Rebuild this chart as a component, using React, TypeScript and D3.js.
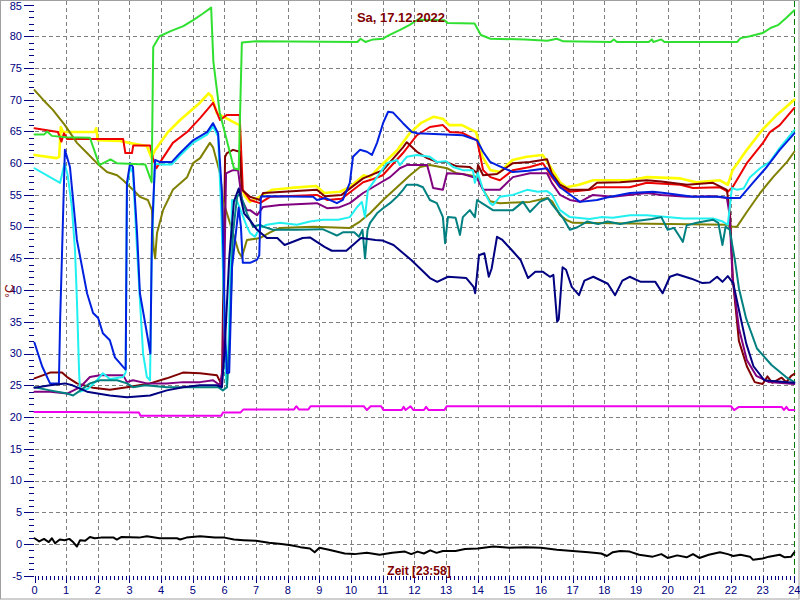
import React from "react";
import * as d3 from "d3";

type Pt = [number, number];

const W = 800;
const H = 600;

const title = "Sa, 17.12.2022";
const xTitle = "Zeit [23:58]";
const yTitle = "°C";

const hourLabels = [0, 1, 2, 3, 4, 5, 6, 7, 8, 9, 10, 11, 12, 13, 14, 15, 16, 17, 18, 19, 20, 21, 22, 23, 24];
const degreeLabels = [-5, 0, 5, 10, 15, 20, 25, 30, 35, 40, 45, 50, 55, 60, 65, 70, 75, 80, 85];
const gridDegrees = [0, 5, 10, 15, 20, 25, 30, 35, 40, 45, 50, 55, 60, 65, 70, 75, 80];

// [Stunde, °C]
const gruen: Pt[] = [
  [0, 64.5], [0.3, 64.5], [0.4, 65], [0.55, 64.3], [1.0, 64.1], [1.75, 64], [2.05, 59.7], [2.4, 60.6], [2.6, 60],
  [3.5, 59.8], [3.7, 57], [3.75, 78.3], [3.95, 80], [4.3, 80.8], [4.7, 81.6], [5.0, 82.5], [5.3, 83.5], [5.58, 84.5],
  [5.65, 76], [5.85, 68], [6.3, 59.2], [6.45, 59], [6.55, 79], [7.0, 79.2], [10.2, 79.1], [10.3, 79.6], [10.45, 79.1],
  [10.7, 79.5], [11.0, 79.6], [11.1, 79.9], [11.25, 80.3], [11.55, 81], [11.85, 81.8], [12.1, 82.6], [12.95, 82.5],
  [13.05, 82.1], [13.9, 82], [14.1, 80.2], [14.4, 79.6], [15.5, 79.5], [16.2, 79.3], [16.5, 79.6], [16.7, 79.2],
  [18.2, 79.1], [18.3, 79.5], [18.4, 79.1], [19.4, 79.1], [19.5, 79.5], [19.55, 79.1], [19.8, 79.5], [19.9, 79.1],
  [22.2, 79.1], [22.3, 79.7], [22.6, 80], [23.0, 80.5], [23.25, 81.3], [23.5, 81.8], [23.75, 82.9], [24, 84.1],
];

const gelb: Pt[] = [
  [0, 61.3], [0.7, 60.8], [0.78, 61], [0.83, 65.7], [0.9, 64.9], [1.9, 64.9], [1.95, 65.5], [2.0, 63.6], [2.7, 63.5],
  [3.2, 63], [3.55, 62.7], [3.7, 60.8], [3.8, 62], [4.2, 64.8], [4.6, 66.8], [5.2, 69.4], [5.5, 71], [5.6, 70.5],
  [5.76, 67.9], [6.27, 66.5], [6.48, 66], [6.55, 56], [6.65, 54.8], [6.8, 53.9], [7.1, 54.7], [7.5, 55.8], [8.1, 56.1],
  [8.9, 56.4], [9.15, 55.3], [9.65, 55.5], [9.95, 56.2], [10.4, 58.1], [10.6, 57.8], [10.9, 59.4], [11.45, 62],
  [11.85, 64.7], [12.2, 66.3], [12.6, 67.3], [12.9, 67], [13.1, 66], [13.5, 66], [13.95, 64.9], [14.15, 61],
  [14.4, 58.9], [14.7, 58.6], [15.1, 60.5], [15.55, 61], [16.05, 61.3], [16.3, 59.4], [16.6, 57], [16.8, 56.2],
  [17.2, 56.6], [17.65, 57.3], [18.8, 57.3], [19.35, 57.8], [20.4, 57.6], [20.9, 57], [21.65, 57.3], [21.9, 56.6],
  [22.05, 58.9], [22.5, 62.1], [23.0, 65.3], [23.45, 67.6], [24, 70],
];

const rot: Pt[] = [
  [0, 65.5], [0.74, 64.9], [0.85, 63.4], [0.93, 64.7], [1.03, 63.8], [2.8, 63.8], [2.87, 61.6], [3.08, 61.6],
  [3.12, 62.8], [3.65, 62.8], [3.74, 60.8], [3.85, 59.2], [3.95, 60], [4.37, 63.2], [4.82, 64.9], [5.23, 67.1],
  [5.64, 69.5], [5.86, 66.8], [6.08, 67.6], [6.48, 67.6], [6.58, 55.8], [6.81, 54.2], [7.12, 53.7], [7.44, 54.7],
  [8.92, 55], [9.24, 54.2], [9.7, 54.4], [10.38, 57], [10.7, 57.5], [11.0, 58.1], [11.64, 61.6], [12.08, 64.4],
  [12.49, 65.7], [12.9, 66], [13.12, 64.9], [13.5, 64.8], [13.98, 63.6], [14.17, 58.9], [14.4, 57.8], [14.7, 57.3],
  [15.11, 58.9], [15.65, 59.4], [16.06, 60], [16.34, 57.8], [16.6, 56.2], [16.91, 55.5], [17.54, 55.8], [17.77, 56.2],
  [18.8, 56.2], [19.34, 56.9], [20.4, 56.6], [20.8, 56.1], [21.65, 56.2], [21.9, 55.5], [22.05, 56.2], [22.5, 60],
  [23.01, 63.2], [23.23, 64.9], [23.54, 66], [24, 68.7],
];

const dunkelrot: Pt[] = [
  [0, 26.1], [0.49, 27], [0.87, 27], [1.03, 26.3], [1.34, 25.3], [1.85, 24.6], [2.38, 24.3], [2.92, 24.7], [3.65, 25.3],
  [4.18, 26.1], [4.69, 27], [5.23, 26.9], [5.76, 26.6], [5.92, 25], [6.02, 61], [6.08, 61.6], [6.27, 62.1],
  [6.48, 61.8], [6.55, 55.8], [6.81, 54.7], [7.12, 54.2], [7.22, 55.3], [8.92, 55.8], [9.17, 54.8], [9.7, 55],
  [10.38, 57.6], [11.01, 58.9], [11.64, 62.5], [11.76, 63.3], [12.08, 61.8], [12.4, 60.8], [12.71, 60.2], [13.0, 60.2],
  [13.34, 59.5], [13.75, 59.4], [13.98, 58.4], [14.01, 59.7], [14.17, 58.1], [14.61, 58.3], [15.11, 60], [15.65, 60.2],
  [16.19, 60.6], [16.34, 58.4], [16.6, 56.6], [16.91, 55.8], [17.5, 55.8], [17.77, 56.9], [18.5, 57], [19.34, 57.3],
  [19.8, 57.1], [20.61, 56.6], [21.43, 56.9], [21.87, 55.8], [21.97, 52.1], [22.06, 41.6], [22.25, 32], [22.5, 28],
  [22.75, 25.5], [23.0, 25.2], [23.15, 26.4], [23.3, 25.4], [23.6, 26.2], [23.75, 25.5], [23.9, 26.5], [24, 26.8],
];

const blau: Pt[] = [
  [0, 31.7], [0.24, 28], [0.49, 25.3], [0.77, 25.3], [0.81, 35.3], [0.87, 45.9], [0.96, 62.1], [1.12, 59.4],
  [1.34, 47.9], [1.66, 39.5], [1.85, 36.4], [2.01, 35.6], [2.16, 33.2], [2.38, 32.1], [2.54, 29.4], [2.8, 27.9],
  [2.88, 27.5], [2.92, 56.9], [3.02, 60], [3.11, 59.4], [3.24, 49], [3.33, 39.5], [3.55, 33.2], [3.66, 30], [3.71, 49],
  [3.81, 60.5], [3.96, 60.2], [4.34, 60.2], [4.6, 61.6], [5.01, 63.6], [5.45, 64.9], [5.64, 66.3], [5.8, 64.7],
  [5.92, 55.3], [6.02, 33.2], [6.08, 26.9], [6.15, 27], [6.24, 43.6], [6.45, 53], [6.52, 50], [6.58, 44.3],
  [6.81, 44.3], [7.03, 44.8], [7.1, 45.5], [7.15, 54.7], [7.22, 54.8], [8.8, 54.7], [8.92, 54.2], [9.2, 54.5],
  [9.55, 53.7], [9.74, 54.2], [9.96, 56.9], [10.06, 61], [10.28, 62.1], [10.5, 61.8], [10.66, 61.3], [10.82, 63.2],
  [11.01, 66.3], [11.17, 68.1], [11.32, 68], [11.64, 66.3], [11.92, 64.9], [12.08, 64.7], [13.53, 64.4],
  [13.98, 63.6], [14.17, 61.8], [14.39, 60.2], [14.61, 59.7], [15.11, 58.6], [15.6, 58.8], [16.19, 59.2],
  [16.34, 58.1], [16.6, 56.2], [17.01, 54.7], [17.23, 53.9], [17.77, 54.2], [18.08, 54.6], [18.81, 55.3],
  [19.53, 55.5], [19.9, 55.3], [20.8, 54.7], [21.65, 54.7], [21.9, 54.5], [22.28, 54.5], [22.69, 56.9],
  [23.13, 59.4], [23.54, 62.1], [24, 64.7],
];

const dunkelblau: Pt[] = [
  [0, 24.6], [0.49, 25], [0.96, 25.3], [1.2, 25], [1.66, 24], [2.38, 23.4], [2.92, 23.1], [3.65, 23.4], [4.18, 24.2],
  [4.69, 24.7], [5.23, 25], [5.76, 25], [5.92, 24.7], [6.0, 30], [6.15, 45], [6.3, 54], [6.45, 56], [6.62, 52.1],
  [6.81, 51], [7.03, 49.5], [7.34, 48.2], [7.67, 48.2], [7.9, 47.1], [8.47, 48.2], [8.7, 48.3], [9.16, 46.8],
  [9.39, 46.2], [9.85, 46.2], [10.31, 48.2], [10.77, 47.9], [11.0, 47.8], [11.34, 47.1], [11.91, 44.7], [12.49, 41.9],
  [12.72, 41.3], [13.06, 42.1], [13.64, 41.9], [13.87, 40.5], [13.92, 39.5], [14.04, 45.5], [14.21, 45.8],
  [14.35, 42.1], [14.44, 43.4], [14.61, 48.4], [14.78, 47.9], [15.13, 46], [15.36, 44.7], [15.59, 41.9],
  [15.82, 42.9], [16.05, 42.9], [16.28, 42.1], [16.39, 42.4], [16.51, 35], [16.56, 35.4], [16.68, 43.6],
  [16.79, 43.2], [16.97, 40.5], [17.2, 39.2], [17.37, 41.5], [17.65, 42.1], [18.11, 41], [18.34, 39.2],
  [18.57, 41.5], [18.8, 42.1], [19.15, 41.3], [19.61, 41.3], [19.84, 39.5], [20.07, 42.1], [20.3, 42.5],
  [20.75, 41.8], [21.1, 41.1], [21.33, 41.2], [21.56, 42.1], [21.73, 41.3], [21.9, 42.2], [22.07, 41.1],
  [22.25, 36.9], [22.48, 31.6], [22.71, 28], [23.05, 25.8], [23.5, 25.6], [24, 25.4],
];

const tuerkis: Pt[] = [
  [0, 59.2], [0.49, 57.8], [0.81, 56.9], [0.95, 60], [1.05, 58], [1.18, 53.1], [1.28, 46.3], [1.34, 38.4],
  [1.41, 26.9], [1.44, 24], [1.7, 24.5], [1.97, 25.8], [2.16, 26.9], [2.38, 26], [2.8, 26.3], [2.88, 27], [2.92, 56.2],
  [3.02, 59.4], [3.11, 58.5], [3.24, 46.3], [3.33, 38.4], [3.43, 30], [3.55, 26.3], [3.65, 25.8], [3.7, 45], [3.8, 60],
  [3.96, 59.8], [4.34, 59.8], [4.6, 61.2], [5.01, 63.2], [5.45, 64.5], [5.64, 65.8], [5.8, 64.2], [5.9, 52],
  [5.95, 43.6], [6.05, 26], [6.08, 24.7], [6.15, 35], [6.24, 54.2], [6.4, 54], [6.71, 50], [6.81, 49], [6.96, 48.4],
  [7.12, 49.8], [7.34, 50.3], [7.75, 50.6], [8.29, 50.3], [8.7, 50.8], [9.11, 51.1], [9.6, 51.1], [9.96, 51.5],
  [10.19, 53.1], [10.34, 53.9], [10.44, 51.5], [10.53, 55.8], [10.82, 57.8], [11.13, 60], [11.45, 60.5],
  [11.54, 59.7], [11.76, 61], [12.08, 61.3], [12.49, 61], [12.71, 60.2], [13.0, 60.3], [13.22, 59.4], [13.53, 58.9],
  [13.85, 58.9], [13.91, 56.9], [14.0, 58.5], [14.17, 55.8], [14.39, 53.7], [14.48, 53.4], [14.7, 54.7], [15.11, 55],
  [15.56, 55.8], [15.9, 55.5], [16.19, 55.6], [16.35, 55], [16.6, 52.6], [16.91, 51.5], [17.54, 51.2], [17.9, 51.5],
  [18.27, 51.4], [18.81, 51.8], [19.34, 51.8], [19.97, 51.5], [20.5, 51.3], [21.02, 51.3], [21.43, 51.3],
  [21.74, 50.8], [21.9, 50.3], [22.03, 56.1], [22.19, 55.8], [22.4, 56], [22.6, 57.8], [22.92, 59.2], [23.23, 60.2],
  [23.54, 62.4], [24, 65.2],
];

const petrol: Pt[] = [
  [0, 24.7], [0.49, 24.2], [1.03, 23.7], [1.22, 23.4], [1.45, 24.2], [1.75, 25.3], [2.07, 25.8], [2.61, 25.8],
  [2.92, 25.3], [3.11, 24.7], [3.5, 25], [4.18, 24.7], [5.23, 24.7], [5.8, 24.7], [5.95, 24.2], [6.08, 24.7],
  [6.17, 33.2], [6.27, 49], [6.4, 54.7], [6.49, 55.3], [6.71, 52.1], [6.9, 50], [7.12, 50.3], [7.22, 50], [7.53, 49.5],
  [8.29, 49.5], [9.1, 49.6], [9.33, 49.1], [9.55, 48.6], [9.74, 49.1], [10.1, 49.1], [10.25, 48.4], [10.36, 49.5],
  [10.44, 45], [10.52, 49.5], [10.6, 50.6], [10.82, 52.1], [11.01, 52.9], [11.23, 53.7], [11.45, 54.7], [11.64, 55.8],
  [11.76, 56.6], [12.08, 56.6], [12.27, 56.2], [12.49, 54.2], [12.71, 53.7], [12.9, 51.5], [12.97, 47.4],
  [13.06, 51.5], [13.3, 51.4], [13.44, 48.7], [13.53, 51.5], [13.75, 52.6], [13.91, 51.5], [13.98, 54.2],
  [14.17, 53.6], [14.48, 52.6], [15.11, 52.6], [15.43, 53.9], [15.65, 52.3], [15.96, 53.9], [16.22, 54.5],
  [16.35, 53.5], [16.69, 51.4], [16.91, 49.5], [17.15, 49.9], [17.45, 50.8], [17.8, 50.4], [18.1, 50.8], [18.5, 50.4],
  [19.0, 50.9], [19.5, 51.2], [19.8, 51.5], [20.0, 49.5], [20.2, 49.8], [20.38, 48.4], [20.48, 47.6], [20.6, 50.2],
  [20.92, 50.6], [21.43, 51.1], [21.6, 50.6], [21.73, 47.1], [21.83, 50], [21.96, 49.5], [22.13, 44.5],
  [22.25, 40.3], [22.48, 35.5], [22.82, 30.8], [23.28, 28.2], [23.74, 26.3], [24, 25.5],
];

const oliv: Pt[] = [
  [0, 71.5], [0.27, 70], [0.58, 68.4], [0.96, 66], [1.34, 63.2], [1.66, 61.6], [1.97, 60], [2.29, 58.6], [2.61, 58.1],
  [2.8, 57.3], [3.11, 55.8], [3.33, 54.7], [3.58, 54.2], [3.71, 52.6], [3.76, 46.8], [3.81, 45], [3.87, 49],
  [4.06, 52.6], [4.37, 55.8], [4.82, 57.8], [5.01, 60], [5.23, 60.8], [5.54, 63.2], [5.64, 62.5], [5.86, 58.4],
  [5.95, 54.2], [6.27, 49], [6.45, 46], [6.55, 45.2], [6.71, 47.9], [7.12, 48.2], [7.44, 49.1], [7.75, 49.8],
  [8.8, 50], [9.96, 49.8], [10.28, 50.8], [10.6, 52.1], [11.01, 54.2], [11.45, 56.2], [11.86, 58.1], [12.18, 59.4],
  [12.49, 59.7], [13.03, 59.2], [13.34, 58.4], [13.75, 58.1], [14.0, 57.8], [14.17, 55.8], [14.39, 54], [14.7, 53.7],
  [15.65, 53.9], [16.19, 54.5], [16.35, 54], [16.6, 51.8], [16.82, 51], [17.01, 50.6], [21.87, 50.3], [21.97, 50],
  [22.19, 50], [22.5, 52.3], [22.92, 55.3], [23.33, 57.8], [23.77, 60.2], [24, 61.8],
];

const lila: Pt[] = [
  [0, 24], [0.5, 24], [1.03, 23.7], [1.44, 24.7], [1.75, 26.3], [2.07, 26.6], [2.8, 26.6], [2.92, 25.5], [3.11, 25.8],
  [3.55, 25.3], [4.18, 25.3], [4.69, 25.5], [5.23, 25.5], [5.64, 25.8], [5.86, 25], [5.95, 27.9], [6.05, 58.4],
  [6.27, 58.9], [6.43, 58.9], [6.55, 54.2], [6.71, 52.6], [6.81, 52.6], [7.03, 51.8], [7.22, 53.1], [7.75, 53.4],
  [8.92, 53.7], [9.24, 52.9], [9.6, 53], [9.96, 53.7], [10.38, 55.3], [10.82, 56.6], [11.23, 57.8], [11.54, 59.2],
  [11.76, 59.7], [12.4, 59.7], [12.49, 58.1], [12.59, 56.1], [12.9, 55.8], [13.03, 58.4], [13.53, 58.3], [13.98, 57.6],
  [14.17, 55.8], [14.7, 55.8], [15.11, 57.8], [15.65, 58.4], [16.19, 58.4], [16.34, 56.9], [16.6, 55], [16.91, 54.2],
  [17.23, 53.9], [17.64, 55], [18.27, 54.7], [19.34, 55.3], [19.8, 55], [20.61, 54.7], [21.43, 54.8], [21.87, 54.5],
  [21.95, 52.1], [22.05, 42], [22.25, 34], [22.5, 29], [22.8, 26.5], [23.2, 25.5], [24, 25.2],
];

const magenta: Pt[] = [
  [0, 20.8], [1.2, 20.8], [3.3, 20.7], [3.35, 20.2], [5.9, 20.2], [5.95, 20.7], [6.5, 20.7], [6.6, 21.2], [8.2, 21.2],
  [8.27, 21.7], [8.35, 21.2], [8.65, 21.2], [8.72, 21.7], [10.4, 21.7], [10.5, 21.1], [10.62, 21.7], [10.95, 21.7],
  [11.02, 21.1], [11.6, 21.1], [11.66, 21.6], [11.72, 21.1], [11.88, 21.7], [11.97, 21.1], [12.3, 21.1],
  [12.37, 21.6], [12.45, 21.1], [12.95, 21.1], [13.02, 21.7], [22.0, 21.7], [22.1, 21.1], [22.25, 21.6],
  [23.6, 21.6], [23.67, 21.1], [23.75, 21.6], [23.82, 21.1], [24, 21.1],
];

const schwarz: Pt[] = [
  [0, 0.9], [0.15, 0.4], [0.3, 0.8], [0.45, 0.3], [0.55, 0.9], [0.65, 0.1], [0.8, 0.7], [0.95, 0.6], [1.1, 0.8],
  [1.22, 0.3], [1.34, -0.4], [1.44, 0.6], [1.6, 0.5], [1.75, 1.1], [1.9, 0.9], [2.1, 1.0], [2.5, 1.0], [2.6, 0.7],
  [2.75, 1.1], [3.3, 1.0], [3.55, 1.2], [3.95, 0.9], [4.5, 0.9], [4.6, 0.7], [4.8, 1.0], [5.23, 1.2], [5.7, 1.0],
  [6.0, 1.0], [6.3, 0.7], [6.6, 0.6], [7.0, 0.5], [7.4, 0.2], [7.8, 0.0], [8.1, -0.2], [8.4, -0.5], [8.7, -0.7],
  [8.85, -1.3], [9.0, -0.6], [9.3, -0.9], [9.8, -1.5], [10.1, -1.6], [10.5, -1.4], [10.9, -1.7], [11.3, -1.4],
  [11.7, -1.2], [11.9, -1.6], [12.1, -1.2], [12.3, -1.5], [12.5, -1.0], [12.7, -1.4], [12.9, -1.1], [13.3, -1.1],
  [13.6, -0.8], [14.0, -0.7], [14.5, -0.4], [15.0, -0.6], [15.5, -0.5], [16.0, -0.6], [16.5, -0.9], [17.0, -1.1],
  [17.5, -1.3], [17.9, -1.5], [18.08, -1.9], [18.27, -1.3], [18.5, -1.1], [18.8, -1.2], [19.1, -1.7], [19.53, -2.0],
  [19.8, -1.6], [20.0, -2.2], [20.3, -1.8], [20.6, -2.1], [20.8, -1.6], [21.0, -2.2], [21.3, -1.7], [21.65, -1.3],
  [21.9, -1.6], [22.07, -1.9], [22.3, -1.7], [22.6, -2.0], [22.7, -2.5], [23.0, -2.3], [23.2, -2.0], [23.54, -1.7],
  [23.7, -2.1], [23.9, -2.0], [24, -1.3],
];

const series = [
  { name: "gelb", color: "#ffff00", width: 2.6, data: gelb },
  { name: "rot", color: "#ee0000", width: 2, data: rot },
  { name: "dunkelrot", color: "#800000", width: 2, data: dunkelrot },
  { name: "oliv", color: "#808000", width: 2, data: oliv },
  { name: "lila", color: "#800080", width: 2, data: lila },
  { name: "tuerkis", color: "#20f0f0", width: 2, data: tuerkis },
  { name: "petrol", color: "#008080", width: 2, data: petrol },
  { name: "blau", color: "#0020e0", width: 2, data: blau },
  { name: "dunkelblau", color: "#000080", width: 2, data: dunkelblau },
  { name: "gruen", color: "#30e030", width: 2, data: gruen },
  { name: "magenta", color: "#ee00ee", width: 2, data: magenta },
  { name: "schwarz", color: "#000000", width: 2, data: schwarz },
];

export default function App() {
  const x = d3.scaleLinear().domain([0, 24]).range([34.5, 794.3]);
  const y = d3.scaleLinear().domain([-5, 85]).range([575.7, 4.5]);
  const line = d3.line<Pt>().x((d) => x(d[0])).y((d) => y(d[1]));

  const px = (v: number) => Math.round(v) + 0.5;
  const bottom = 576;
  const minorHours = d3.range(0, 24 * 8 + 1).map((i) => i / 8);
  const minorDegrees = d3.range(-5, 86);
  const font = "'Liberation Sans', Arial, sans-serif";

  return (
    <div style={{ position: "absolute", left: 0, top: 0, width: W, height: H }}>
      <svg width={W} height={H} style={{ display: "block", background: "#fff" }} fontFamily={font}>
        <rect x={0.5} y={0.5} width={W - 1.5} height={H - 1.5} fill="#fff" stroke="#a0a0a0" />

        {/* Gitter */}
        <g stroke="#808080" strokeWidth={1} strokeDasharray="4,3" shapeRendering="crispEdges">
          {gridDegrees.map((d) => (
            <line key={"h" + d} x1={x(0)} x2={x(24)} y1={px(y(d))} y2={px(y(d))} />
          ))}
          {hourLabels.slice(1, 24).map((h) => (
            <line key={"v" + h} x1={px(x(h))} x2={px(x(h))} y1={1} y2={bottom} />
          ))}
        </g>
        <line x1={px(x(24))} x2={px(x(24))} y1={1} y2={bottom} stroke="#007a00" strokeDasharray="6,3" shapeRendering="crispEdges" />

        {/* Achsen */}
        <g stroke="#000080" strokeWidth={1} shapeRendering="crispEdges">
          {minorDegrees.map((d) => (
            <line key={"yt" + d} x1={d % 5 === 0 ? 24 : 29} x2={34} y1={px(y(d))} y2={px(y(d))} />
          ))}
          {minorHours.map((h) => (
            <line key={"xt" + h} x1={px(x(h))} x2={px(x(h))} y1={bottom} y2={Number.isInteger(h) ? 583 : 580} />
          ))}
        </g>
        <g fill="#000080" fontSize={11}>
          {degreeLabels.map((d) => (
            <text key={"yl" + d} x={22} y={Math.max(y(d), 6.5)} dy="0.35em" textAnchor="end">{d}</text>
          ))}
          {hourLabels.map((h) => (
            <text key={"xl" + h} x={x(h)} y={594} textAnchor="middle">{h}</text>
          ))}
        </g>

        {/* Kurven */}
        <g fill="none" strokeLinejoin="round" strokeLinecap="round">
          {series.map((s) => (
            <path key={s.name} d={line(s.data) ?? ""} stroke={s.color} strokeWidth={s.width} />
          ))}
        </g>

        <text x={401} y={22} textAnchor="middle" fill="#800000" fontWeight="bold" fontSize={13}>{title}</text>
        <text x={419} y={575} textAnchor="middle" fill="#800000" fontWeight="bold" fontSize={12}>{xTitle}</text>
        <text transform="translate(14,291) rotate(-90)" textAnchor="middle" fill="#800000" fontSize={12}>{yTitle}</text>
      </svg>
    </div>
  );
}
